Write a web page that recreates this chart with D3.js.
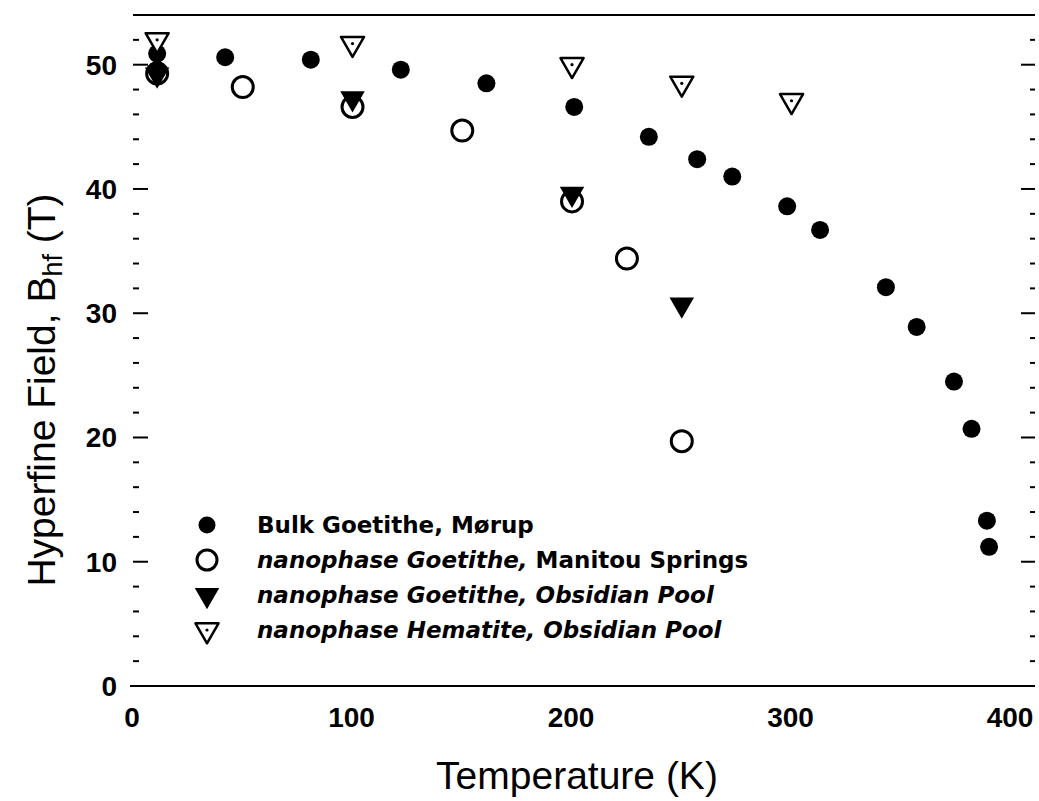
<!DOCTYPE html>
<meta charset="utf-8">
<style>
body { margin: 0; background: #fff; }
svg { font-family: "Liberation Sans", Arial, sans-serif; }
.tick-label { font-size: 28px; font-weight: bold; }
.legend text { font-family: "DejaVu Sans", sans-serif; font-size: 23px; font-weight: bold; }
.title { font-size: 39px; }
</style>
<body>
<svg width="1039" height="801"></svg>
<script src="https://d3js.org/d3.v7.min.js"></script>
<script>

// Bulk Goethite, Morup (filled circles)
var bulkT = [11, 11, 42, 81, 122, 161, 201, 235, 257, 273, 298, 313, 343, 357, 374, 382, 389, 390];
var bulkB = [50.9, 49.6, 50.6, 50.4, 49.6, 48.5, 46.6, 44.2, 42.4, 41.0, 38.6, 36.7, 32.1, 28.9, 24.5, 20.7, 13.3, 11.2];

// nanophase Goethite, Manitou Springs (open circles)
var manitouT = [11, 50, 100, 150, 200, 225, 250];
var manitouB = [49.3, 48.2, 46.6, 44.7, 39.0, 34.4, 19.7];

// nanophase Goethite, Obsidian Pool (filled triangles)
var obsidianT = [11, 100, 200, 250];
var obsidianB = [49.2, 47.3, 39.6, 30.7];

// nanophase Hematite, Obsidian Pool (open triangles with dot)
var hematiteT = [11, 100, 200, 250, 300];
var hematiteB = [52.0, 51.7, 50.0, 48.5, 47.1];

var xTicks = [0, 100, 200, 300, 400];
var yTicks = [0, 10, 20, 30, 40, 50];

var legendLabels = [
  [["Bulk Goetithe, Mørup", "normal"]],
  [["nanophase Goetithe, ", "italic"], ["Manitou Springs", "normal"]],
  [["nanophase Goetithe, Obsidian Pool", "italic"]],
  [["nanophase Hematite, Obsidian Pool", "italic"]]
];

var svg = d3.select("svg");

var x = d3.scaleLinear().domain([0, 410]).range([133, 1033]);
var y = d3.scaleLinear().domain([0, 54]).range([686, 15]);

function zip(a, b) { return a.map(function(d, i) { return [d, b[i]]; }); }

// frame lines (top and bottom only)
svg.append("line")
    .attr("x1", x(0) - 3).attr("x2", x(410) + 2)
    .attr("y1", y(0)).attr("y2", y(0))
    .attr("stroke", "#000").attr("stroke-width", 2);
svg.append("line")
    .attr("x1", x(0)).attr("x2", x(410) + 2)
    .attr("y1", y(54)).attr("y2", y(54))
    .attr("stroke", "#000").attr("stroke-width", 2);

// inward ticks on left and right
var minor = d3.range(2, 54, 2);
var ticksG = svg.append("g").attr("stroke", "#000").attr("stroke-width", 2);
ticksG.selectAll(".lt").data(minor).enter().append("line")
    .attr("x1", x(0)).attr("x2", function(d) { return x(0) + (d % 10 == 0 ? 15 : 6); })
    .attr("y1", function(d) { return y(d); }).attr("y2", function(d) { return y(d); });
ticksG.selectAll(".rt").data(minor).enter().append("line")
    .attr("x1", x(410) + 2).attr("x2", function(d) { return x(410) + 2 - (d % 10 == 0 ? 14 : 5); })
    .attr("y1", function(d) { return y(d); }).attr("y2", function(d) { return y(d); });

// tick labels
svg.selectAll(".xl").data(xTicks).enter().append("text")
    .attr("class", "tick-label")
    .attr("x", function(d) { return x(d) - 1; })
    .attr("y", 727)
    .attr("text-anchor", "middle")
    .text(function(d) { return d; });

svg.selectAll(".yl").data(yTicks).enter().append("text")
    .attr("class", "tick-label")
    .attr("x", 117)
    .attr("y", function(d) { return y(d) + 10; })
    .attr("text-anchor", "end")
    .text(function(d) { return d; });

// axis titles
svg.append("text")
    .attr("class", "title")
    .attr("x", 577).attr("y", 789)
    .attr("text-anchor", "middle")
    .text("Temperature (K)");

var yt = svg.append("text")
    .attr("class", "title")
    .attr("transform", "translate(55,390) rotate(-90)")
    .attr("text-anchor", "middle");
yt.append("tspan").text("Hyperfine Field, B");
yt.append("tspan").attr("font-size", "27px").attr("dy", 7).text("hf");
yt.append("tspan").attr("dy", -7).text(" (T)");

var triDown = d3.symbol().type(d3.symbolTriangle).size(260);
var triOpen = d3.symbol().type(d3.symbolTriangle).size(230);

// markers
var pts = svg.append("g");

pts.selectAll(".bulk").data(zip(bulkT, bulkB)).enter().append("circle")
    .attr("cx", function(d) { return x(d[0]); })
    .attr("cy", function(d) { return y(d[1]); })
    .attr("r", 9)
    .attr("fill", "#000");

pts.selectAll(".man").data(zip(manitouT, manitouB)).enter().append("circle")
    .attr("cx", function(d) { return x(d[0]); })
    .attr("cy", function(d) { return y(d[1]); })
    .attr("r", 10.5)
    .attr("fill", "none")
    .attr("stroke", "#000")
    .attr("stroke-width", 3);

pts.selectAll(".obs").data(zip(obsidianT, obsidianB)).enter().append("path")
    .attr("d", triDown)
    .attr("transform", function(d) { return "translate(" + x(d[0]) + "," + y(d[1]) + ") rotate(180)"; })
    .attr("fill", "#000");

var hem = pts.selectAll(".hem").data(zip(hematiteT, hematiteB)).enter().append("g")
    .attr("transform", function(d) { return "translate(" + x(d[0]) + "," + y(d[1]) + ")"; });
hem.append("path")
    .attr("d", triOpen)
    .attr("transform", "rotate(180)")
    .attr("fill", "#fff")
    .attr("stroke", "#000")
    .attr("stroke-width", 2.5)
    .attr("stroke-linejoin", "round");
hem.append("circle").attr("r", 1.6).attr("fill", "#000");

// legend
var legend = svg.append("g").attr("class", "legend");
var rows = legend.selectAll("g").data(legendLabels).enter().append("g")
    .attr("transform", function(d, i) { return "translate(207," + (525 + i * 35) + ")"; });

rows.each(function(d, i) {
  var g = d3.select(this);
  if (i == 0) {
    g.append("circle").attr("r", 8.5).attr("fill", "#000");
  } else if (i == 1) {
    g.append("circle").attr("r", 10).attr("fill", "none").attr("stroke", "#000").attr("stroke-width", 3);
  } else if (i == 2) {
    g.append("path").attr("d", triDown).attr("transform", "rotate(180)").attr("fill", "#000");
  } else {
    g.append("path").attr("d", triOpen).attr("transform", "rotate(180)")
        .attr("fill", "#fff").attr("stroke", "#000").attr("stroke-width", 2.5)
        .attr("stroke-linejoin", "round");
    g.append("circle").attr("r", 1.6).attr("fill", "#000");
  }
  var t = g.append("text").attr("x", 50).attr("y", 8);
  d.forEach(function(p) {
    t.append("tspan").attr("font-style", p[1]).text(p[0]);
  });
});

</script>
</body>
